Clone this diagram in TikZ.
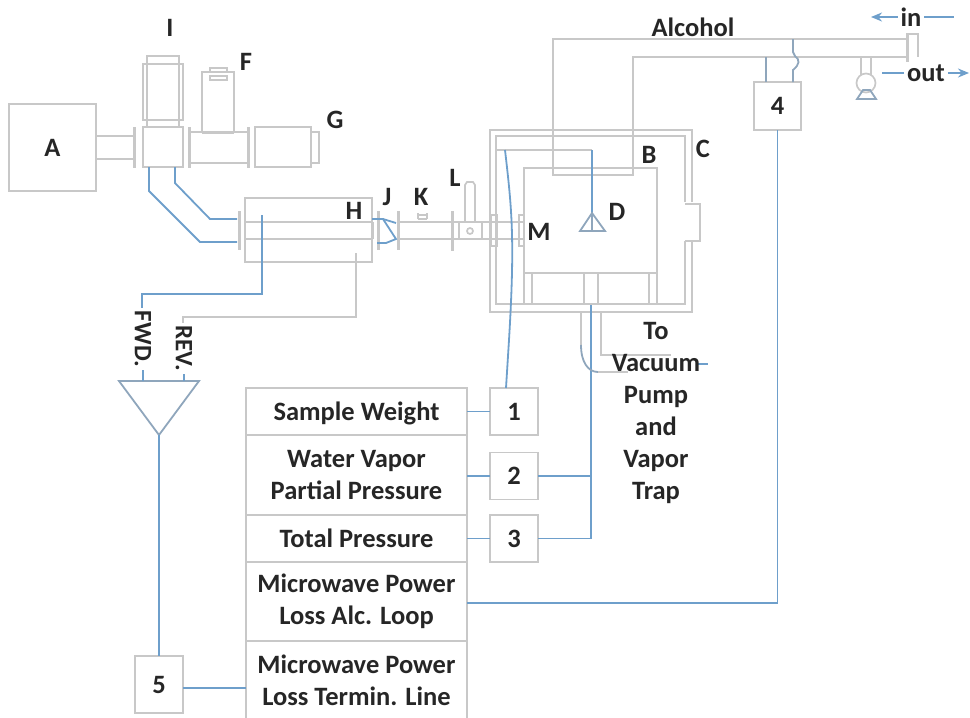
\documentclass[tikz,border=0pt]{standalone}
\usepackage{fontspec}
\usetikzlibrary{arrows.meta}
\setmainfont{Carlito}
\tikzset{
  every node/.style={font=\fontsize{26.5}{32}\selectfont\bfseries, text=black!85, inner sep=0pt, outer sep=0pt},
  g/.style={draw=grayl, line width=1.7pt},
  gt/.style={draw=grayl, line width=3pt},
  b/.style={draw=bluel, line width=1.8pt},
  gb/.style={draw=greyblue, line width=1.8pt},
  cellbox/.style={g, align=center, minimum width=221pt},
  numbox/.style={g, minimum width=48pt},
}
\definecolor{grayl}{HTML}{C8C8C8}
\definecolor{bluel}{HTML}{6E9FCB}
\definecolor{greyblue}{HTML}{8FA6BC}
\begin{document}
\begin{tikzpicture}[x=1pt,y=-1pt]
\useasboundingbox (0,0) rectangle (970,718);
\clip (0,0) rectangle (970,718);
% ---- microwave source line
\node[numbox,minimum width=87pt,minimum height=87pt] (A) at (52.5,147.5) {A};
\draw[g] (96,136) -- (133,136) (96,159) -- (133,159);
\draw[gt] (134,127) -- (134,168);
\draw[g] (147,56) rectangle (179,127);
\draw[g] (143,64) rectangle (183,120);
\node[g,minimum width=40pt,minimum height=40pt,fill=white] (cross) at (163,147) {};
\draw[gt] (189,127) -- (189,168);
\draw[g] (189,132) -- (248,132) (189,163) -- (248,163);
\draw[g] (202,132) -- (202,72) -- (234,72) -- (234,132);
\draw[g] (210,72) -- (210,68) -- (227,68) -- (227,72);
\draw[g] (210,76) rectangle (227,80);
\draw[gt] (202,132) -- (234,132);
\draw[gt] (248,127) -- (248,168);
\draw[g] (255,127) rectangle (311,167);
\draw[g] (311,132) -- (319,132) -- (319,163) -- (311,163);
% ---- waveguide
\draw[b] (149,167) -- (149,191) -- (200,242) -- (237,242);
\draw[b] (175,167) -- (175,183) -- (210,219) -- (237,219);
\draw[gt] (239,211) -- (239,250);
\draw[g] (245,198) rectangle (372,262);
\draw[g] (245,222) -- (372,222) (245,239) -- (372,239);
\draw[gt] (372,222) -- (372,239);
% ---- J K L
\draw[gt] (378,211) -- (378,250);
\draw[gt] (398,211) -- (398,250);
\draw[b] (372,219) -- (383,219) -- (396,239) -- (386,243) -- (377,243);
\draw[b] (383,219) -- (396,223);
\draw[g] (398,222) -- (524,222) (398,239) -- (524,239);
\draw[g] (418,219) -- (418,213) (427,219) -- (427,213) (418,219) -- (427,219) (418,215) -- (427,215);
\draw[gt] (452,211) -- (452,251);
\draw[g] (465,222) -- (465,185) -- (467,182) -- (473,182) -- (475,185) -- (475,222);
\draw[g] (459,222) -- (459,239) (482,222) -- (482,239);
\draw[g] (470,231) circle (3pt);
\draw[g] (491,215) rectangle (497,246);
\draw[g] (519,215) rectangle (524,246);
% ---- chamber
\draw[g] (685,202) -- (685,136) -- (496,136) -- (496,304) -- (685,304) -- (685,241);
\draw[g] (692,202) -- (692,130) -- (490,130) -- (490,312) -- (692,312) -- (692,241);
\draw[g] (685,204) -- (700,204) -- (700,241) -- (685,241);
\draw[g] (524,168) rectangle (657,273);
\draw[g] (532,273) -- (532,304) (524,273) -- (524,304);
\draw[g] (649,273) -- (649,304) (657,273) -- (657,304);
\draw[g] (584,273) -- (584,304) (598,273) -- (598,304);
% ---- alcohol loop
\draw[g] (553,130) -- (553,39) -- (907,39);
\draw[g] (633,130) -- (633,57) -- (907,57);
\draw[g] (553,130) -- (553,175) -- (633,175) -- (633,130);
\draw[gt] (907,33) -- (907,62);
\draw[g] (907,34) -- (918,34) -- (918,57);
% pump
\draw[g] (861,57) -- (861,75) (871,57) -- (871,75);
\draw[g] (866,83) circle (9.5pt);
\draw[gb] (857,99) -- (876,99) -- (870,90) -- (863,90) -- cycle;
% ---- numbered boxes
\node[numbox,minimum width=47pt,minimum height=48pt] (n4) at (777.5,106) {4};
\node[numbox,minimum height=47pt] (n1) at (514,411.5) {1};
\node[numbox,minimum height=47pt] (n2) at (514,476) {2};
\node[numbox,minimum height=47pt] (n3) at (514,538.5) {3};
\node[numbox,minimum height=57pt] (n5) at (159,684.5) {5};
% ---- table
\node[cellbox,minimum height=47pt,text depth=0pt] (t1) at (356.5,411.5) {Sample Weight};
\node[cellbox,minimum height=80pt] (t2) at (356.5,475) {Water Vapor\\Partial Pressure};
\node[cellbox,minimum height=47pt] (t3) at (356.5,538.5) {Total Pressure};
\node[cellbox,minimum height=79pt] (t4) at (356.5,601.5) {Microwave Power\\Loss Alc. Loop};
\node[cellbox,minimum height=89pt,anchor=north] (t5) at (356.5,641) {};
\node[align=center] (t5text) at (356.5,680) {Microwave Power\\Loss Termin. Line};
% ---- triangle amplifier
\coordinate (triL) at (119,381);
\coordinate (triR) at (199,381);
\coordinate (triB) at (159,435);
\draw[gb] (triL) -- (triR) -- (triB) -- cycle;
\draw[b] (triB) -- (n5.north);
\draw[b] (n5.east |- 0,688) -- (t5.west |- 0,688);
\draw[b] (t1.east) -- (n1.west);
\draw[b] (n2.west) -- (t2.east |- n2.west);
\draw[b] (t3.east) -- (n3.west);
% FWD / REV
\node[rotate=-90] (fwd) at (143,339) {\fontsize{25}{25}\selectfont FWD.};
\node[rotate=-90] (rev) at (184,348) {\fontsize{25}{25}\selectfont REV.};
\draw[b] (262,215) -- (262,294) -- (142,294) -- (142,308);
\draw[b] (143,370) -- (143,381);
\draw[g] (356,253) -- (356,317) -- (183,317) -- (183,323);
\draw[b] (184,374) -- (184,381);
% ---- signal lines
\draw[b] (t4.east |- 0,603) -- (777.5,603) -- (n4.south);
\draw[gb] (766,82) -- (766,57);
\draw[gb] (793,82) -- (793,70) .. controls (800,64) and (800,60) .. (795,56) -- (793,52) -- (793,39);
\coordinate (wireL) at (496,150);
\coordinate (wireR) at (592,150);
\draw[g] (wireL) -- (wireR);
\draw[b] (wireR) -- (592,213);
\draw[gb] (592,213) -- (580,231) -- (605,231) -- cycle (592,213) -- (592,231);
\draw[b] (505,150) .. controls (512,210) and (515,240) .. (509,340) -- (506,388);
\draw[b] (591,305) -- (591,538.5) -- (n3.east);
\draw[b] (n2.east) -- (591,476);
\draw[g] (581,312) -- (581,345);
\draw[gb] (581,345) .. controls (581,362) and (588,372) .. (598,372);
\draw[g] (598,372) -- (628,372);
\draw[g] (601,312) -- (601,355) -- (671,355);
\draw[b] (698,364) -- (708,364);
% ---- labels
\node (I) at (170,28) {I};
\node (F) at (246,62) {F};
\node (G) at (335,120) {G};
\node (H) at (354,211) {H};
\node (J) at (387,197) {J};
\node (K) at (421,197) {K};
\node (L) at (455,178) {L};
\node (M) at (539,232) {M};
\node (B) at (649,155) {B};
\node (C) at (703,149) {C};
\node (D) at (617,212) {D};
\node (Alc) at (693,27) {Alcohol};
\node[align=center] (to) at (656,413) {To\\Vacuum\\Pump\\and\\Vapor\\Trap};
\node (in) at (911,17) {in};
\node (out) at (926,73) {out};
\coordinate (inR) at (954,17);
\coordinate (inL) at (871,17);
\coordinate (outL) at (882,73);
\coordinate (outR) at (969,73);
\draw[b] (in.east) ++(3,0) -- (inR);
\draw[b,-{Stealth[length=11pt,width=9pt]}] (in.west) ++(-3,0) -- (inL);
\draw[b] (out.west) ++(-3,0) -- (outL);
\draw[b,-{Stealth[length=11pt,width=9pt]}] (out.east) ++(3,0) -- (outR);
\end{tikzpicture}
\end{document}
